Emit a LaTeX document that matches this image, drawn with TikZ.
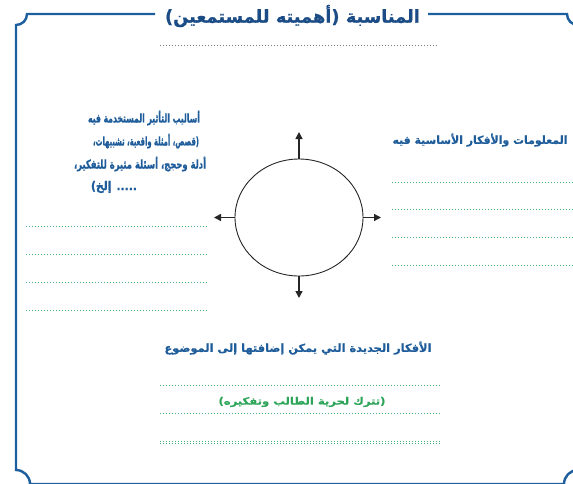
\documentclass[tikz,border=0pt]{standalone}
\usepackage{graphicx}
\usepackage{fontspec}
\newfontfamily\arabicfont[Script=Arabic]{DejaVu Sans}
\newfontfamily\arabicheavy[Script=Arabic,FakeBold=1.2]{DejaVu Sans Bold}
\newfontfamily\arabicmid[Script=Arabic,FakeBold=0.6]{DejaVu Sans Bold}
\TeXXeTstate=1
\usetikzlibrary{arrows.meta,shapes.geometric}
\definecolor{frameblue}{HTML}{1C5E9E}
\definecolor{titleblue}{HTML}{1B4C86}
\definecolor{headblue}{HTML}{1E5C9A}
\definecolor{dotgreen}{HTML}{3FB57A}
\definecolor{txtgreen}{HTML}{2EA55A}
\definecolor{dotgrey}{HTML}{7A7A7A}
\newcommand{\fitw}[2]{\resizebox{#1}{\height}{#2}}
\tikzset{
  framepath/.style={draw=frameblue,line width=2.4pt},
  heading/.style={text=headblue,font=\arabicmid\fontsize{11}{13}\selectfont,inner sep=0pt},
  leftline/.style={text=headblue,font=\arabicheavy\fontsize{12}{14}\selectfont,inner sep=0pt},
  greendots/.style={draw=dotgreen,line width=1pt,dash pattern=on 1pt off 2pt},
  greydots/.style={draw=dotgrey,line width=0.9pt,dash pattern=on 1pt off 2pt},
  outarrow/.style={draw=black!85,line width=1.5pt,-{Triangle[length=7pt,width=7pt]}},
}
\begin{document}
\begin{tikzpicture}[x=1pt,y=-1pt]
\useasboundingbox (0,0) rectangle (573,483);
\begin{scope}
\clip (0,0) rectangle (573,483);
% frame
\draw[framepath] (155,14) -- (27,14) .. controls (27,20.1) and (22.1,25) .. (16,25)
  -- (16,470) .. controls (23.7,470) and (30,476.3) .. (30,484) -- (564,484)
  .. controls (564,476.3) and (570.3,470) .. (578,470) -- (578,25)
  .. controls (571.9,25) and (567,20.1) .. (567,14) -- (428,14);
\end{scope}
% title
\node[text=titleblue,font=\arabicmid\fontsize{18}{20}\selectfont,inner sep=0pt] (title) at (292.5,16) {\fitw{255pt}{\beginR المناسبة (أهميته للمستمعين)\endR}};
\coordinate (tl1) at (160,45); \coordinate (tl2) at (438,45);
\draw[greydots] (tl1) -- (tl2);
% left block
\node[leftline] (l1) at (144,118) {\fitw{112pt}{\beginR أساليب التأثير المستخدمة فيه\endR}};
\node[leftline] (l2) at (146,141) {\fitw{106pt}{\beginR (قصص، أمثلة واقعية، تشبيهات،\endR}};
\node[leftline] (l3) at (140,164) {\fitw{132pt}{\beginR أدلة وحجج، أسئلة مثيرة للتفكير،\endR}};
\node[leftline] (l4) at (114,187) {\fitw{46pt}{\beginR ..... إلخ)\endR}};
\foreach \y/\n in {226/a,254/b,282/c,310/d}{
  \coordinate (la\n) at (26,\y); \coordinate (lb\n) at (208,\y);
  \draw[greendots] (la\n) -- (lb\n);
}
% right block
\node[heading] (r1) at (480,140) {\fitw{175pt}{\beginR المعلومات والأفكار الأساسية فيه\endR}};
\foreach \y/\n in {182/a,209/b,237/c,265/d}{
  \coordinate (ra\n) at (392,\y); \coordinate (rb\n) at (573,\y);
  \draw[greendots] (ra\n) -- (rb\n);
}
% center ellipse
\node[draw=black!85,line width=0.9pt,ellipse,minimum width=128pt,minimum height=117pt,inner sep=0pt] (c) at (299,217.5) {};
\coordinate (cu) at (299,132); \coordinate (cd) at (299,298);
\coordinate (cl) at (214,217.5); \coordinate (cr) at (381,217.5);
\draw[outarrow] (c.north) -- (cu);
\draw[outarrow] (c.south) -- (cd);
\draw[outarrow] (c.west) -- (cl);
\draw[outarrow] (c.east) -- (cr);
% bottom block
\node[heading] (b1) at (298,348) {\fitw{267pt}{\beginR الأفكار الجديدة التي يمكن إضافتها إلى الموضوع\endR}};
\coordinate (ba1) at (160,385); \coordinate (bb1) at (440,385);
\coordinate (ba2) at (160,413); \coordinate (bb2) at (440,413);
\coordinate (ba3) at (160,441); \coordinate (bb3) at (440,441);
\coordinate (ba4) at (160,443.5); \coordinate (bb4) at (440,443.5);
\draw[greendots] (ba1) -- (bb1);
\draw[greendots] (ba2) -- (bb2);
\draw[greendots] (ba3) -- (bb3);
\draw[greendots] (ba4) -- (bb4);
\node[text=txtgreen,font=\arabicmid\fontsize{10}{12}\selectfont,inner sep=0pt] (g) at (302,402) {\fitw{167pt}{\beginR (تترك لحرية الطالب وتفكيره)\endR}};
\end{tikzpicture}
\end{document}
